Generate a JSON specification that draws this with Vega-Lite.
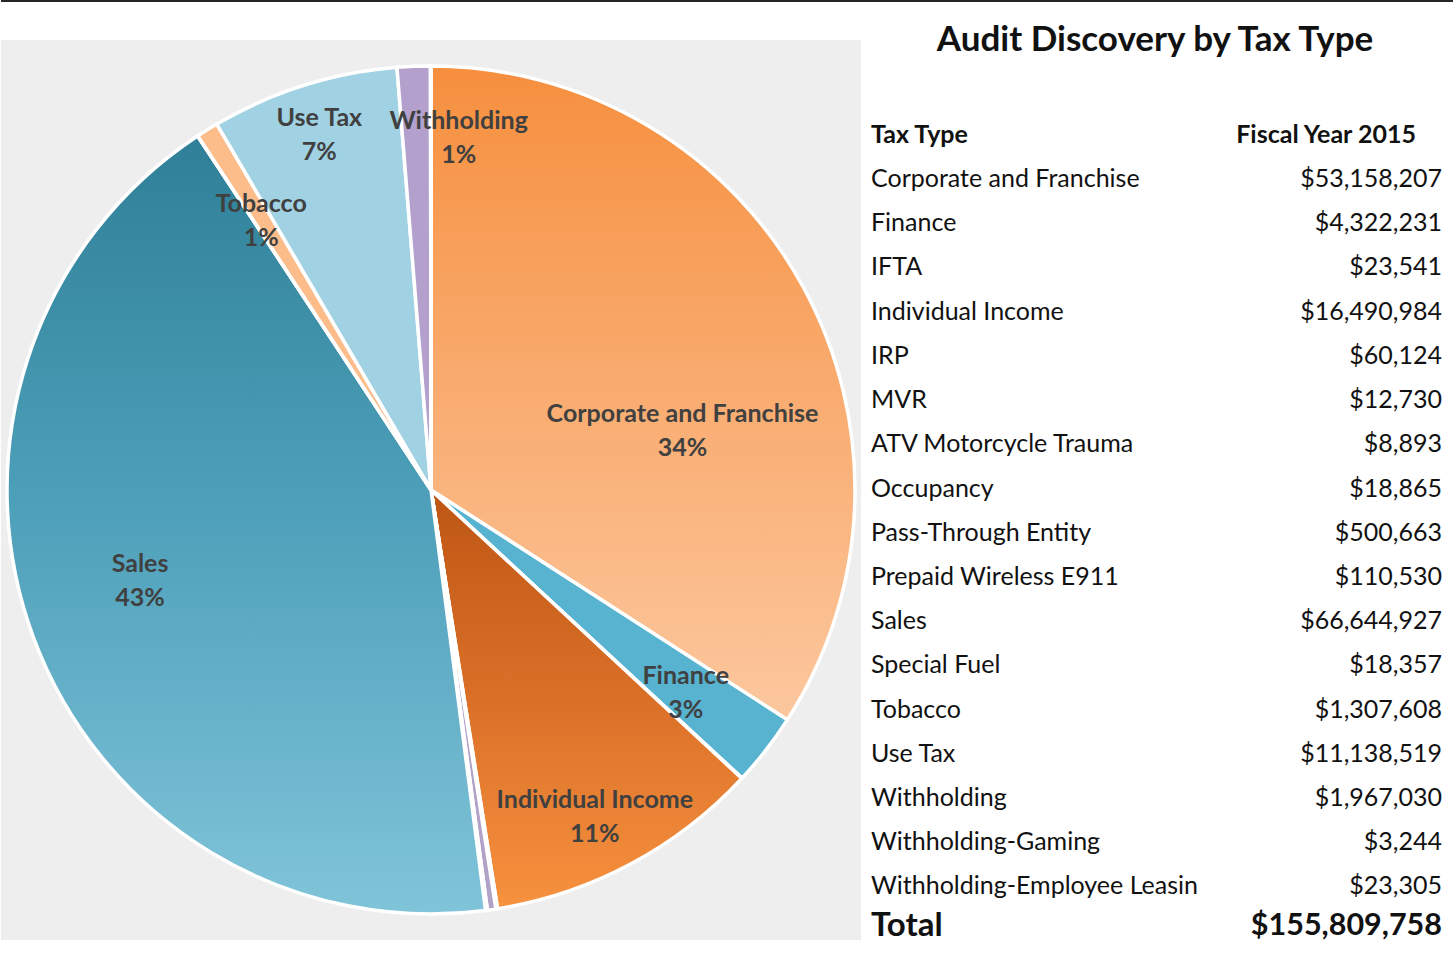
{
  "$schema": "https://vega.github.io/schema/vega-lite/v6.json",
  "background": "white",
  "padding": 0,
  "bounds": "flush",
  "spacing": 38,
  "config": {"view": {"stroke": null}, "font": "Lato", "text": {"font": "Lato"}},
  "datasets": {
    "taxes": [
      {"row": 3, "type": "Corporate and Franchise", "amount": 53158207, "label": "Corporate and Franchise\n34%"},
      {"row": 4, "type": "Finance", "amount": 4322231, "label": "Finance\n3%"},
      {"row": 5, "type": "IFTA", "amount": 23541, "label": ""},
      {"row": 6, "type": "Individual Income", "amount": 16490984, "label": "Individual  Income\n11%"},
      {"row": 7, "type": "IRP", "amount": 60124, "label": ""},
      {"row": 8, "type": "MVR", "amount": 12730, "label": ""},
      {"row": 9, "type": "ATV Motorcycle Trauma", "amount": 8893, "label": ""},
      {"row": 10, "type": "Occupancy", "amount": 18865, "label": ""},
      {"row": 11, "type": "Pass-Through Entity", "amount": 500663, "label": ""},
      {"row": 12, "type": "Prepaid Wireless E911", "amount": 110530, "label": ""},
      {"row": 13, "type": "Sales", "amount": 66644927, "label": "Sales\n43%"},
      {"row": 14, "type": "Special Fuel", "amount": 18357, "label": ""},
      {"row": 15, "type": "Tobacco", "amount": 1307608, "label": "Tobacco\n1%"},
      {"row": 16, "type": "Use Tax", "amount": 11138519, "label": "Use Tax\n7%"},
      {"row": 17, "type": "Withholding", "amount": 1967030, "label": "Withholding\n1%"},
      {"row": 18, "type": "Withholding-Gaming", "amount": 3244, "label": ""},
      {"row": 19, "type": "Withholding-Employee Leasing", "amount": 23305, "label": ""}
    ]
  },
  "vconcat": [
    {
      "width": 1453,
      "height": 2,
      "data": {"values": [{"a": 1}]},
      "mark": {"type": "rect", "color": "#262626"},
      "encoding": {
        "x": {"value": 0},
        "x2": {"value": "width"},
        "y": {"value": 0},
        "y2": {"value": "height"}
      }
    },
    {
      "bounds": "flush",
      "spacing": 10,
      "hconcat": [
        {
          "width": 860,
          "height": 900,
          "view": {"fill": "#EEEEEE", "stroke": null},
          "data": {"name": "taxes"},
          "layer": [
            {
              "mark": {"type": "arc", "radius": 424, "stroke": "white", "strokeWidth": 3.5},
              "encoding": {
                "theta": {"field": "amount", "type": "quantitative", "stack": true},
                "order": {"field": "row", "type": "quantitative"},
                "color": {
                  "field": "type",
                  "type": "nominal",
                  "legend": null,
                  "scale": {
                    "domain": ["Corporate and Franchise", "Finance", "IFTA", "Individual Income", "IRP", "MVR", "ATV Motorcycle Trauma", "Occupancy", "Pass-Through Entity", "Prepaid Wireless E911", "Sales", "Special Fuel", "Tobacco", "Use Tax", "Withholding", "Withholding-Gaming", "Withholding-Employee Leasing"],
                    "range": ["#F9A566", "#57B3D0", "#8EB4E3", "#E07020", "#9BBB59", "#8064A2", "#4F81BD", "#C0504D", "#B3A2C7", "#C3D69B", "#4FA0BA", "#F79646", "#FCBD8B", "#A0D2E3", "#B3A0CC", "#FAC090", "#93CDDD"]
                  },
                  "condition": [
                    {"test": "datum.type === 'Corporate and Franchise'", "value": {"gradient": "linear", "x1": 0, "y1": 0, "x2": 0, "y2": 1, "stops": [{"offset": 0, "color": "#F68F3E"}, {"offset": 0.5, "color": "#F9AC70"}, {"offset": 1, "color": "#FCC79E"}]}},
                    {"test": "datum.type === 'Individual Income'", "value": {"gradient": "linear", "x1": 0, "y1": 0, "x2": 0, "y2": 1, "stops": [{"offset": 0, "color": "#BE5614"}, {"offset": 0.5, "color": "#DA7028"}, {"offset": 1, "color": "#F7923F"}]}},
                    {"test": "datum.type === 'Sales'", "value": {"gradient": "linear", "x1": 0, "y1": 0, "x2": 0, "y2": 1, "stops": [{"offset": 0, "color": "#2E7F97"}, {"offset": 0.5, "color": "#50A1BB"}, {"offset": 1, "color": "#80C4D9"}]}}
                  ]
                }
              }
            },
            {
              "mark": {"type": "text", "radius": 250, "dx": 32, "dy": 44, "fontSize": 25, "fontWeight": "bold", "color": "#404040", "lineBreak": "\n", "lineHeight": 34, "align": "center", "baseline": "middle"},
              "encoding": {
                "theta": {"field": "amount", "type": "quantitative", "stack": true},
                "order": {"field": "row", "type": "quantitative"},
                "text": {"condition": {"test": "datum.type === 'Corporate and Franchise'", "field": "label", "type": "nominal"}, "value": ""}
              }
            },
            {
              "mark": {"type": "text", "radius": 325, "dx": -2, "dy": -13, "fontSize": 25, "fontWeight": "bold", "color": "#404040", "lineBreak": "\n", "lineHeight": 34, "align": "center", "baseline": "middle"},
              "encoding": {
                "theta": {"field": "amount", "type": "quantitative", "stack": true},
                "order": {"field": "row", "type": "quantitative"},
                "text": {"condition": {"test": "datum.type === 'Finance'", "field": "label", "type": "nominal"}, "value": ""}
              }
            },
            {
              "mark": {"type": "text", "radius": 365, "dx": -8, "dy": -12, "fontSize": 25, "fontWeight": "bold", "color": "#404040", "lineBreak": "\n", "lineHeight": 34, "align": "center", "baseline": "middle"},
              "encoding": {
                "theta": {"field": "amount", "type": "quantitative", "stack": true},
                "order": {"field": "row", "type": "quantitative"},
                "text": {"condition": {"test": "datum.type === 'Individual Income'", "field": "label", "type": "nominal"}, "value": ""}
              }
            },
            {
              "mark": {"type": "text", "radius": 304, "dx": -6, "dy": -32, "fontSize": 25, "fontWeight": "bold", "color": "#404040", "lineBreak": "\n", "lineHeight": 34, "align": "center", "baseline": "middle"},
              "encoding": {
                "theta": {"field": "amount", "type": "quantitative", "stack": true},
                "order": {"field": "row", "type": "quantitative"},
                "text": {"condition": {"test": "datum.type === 'Sales'", "field": "label", "type": "nominal"}, "value": ""}
              }
            },
            {
              "mark": {"type": "text", "radius": 318, "dx": -2, "dy": -16, "fontSize": 25, "fontWeight": "bold", "color": "#404040", "lineBreak": "\n", "lineHeight": 34, "align": "center", "baseline": "middle"},
              "encoding": {
                "theta": {"field": "amount", "type": "quantitative", "stack": true},
                "order": {"field": "row", "type": "quantitative"},
                "text": {"condition": {"test": "datum.type === 'Tobacco'", "field": "label", "type": "nominal"}, "value": ""}
              }
            },
            {
              "mark": {"type": "text", "radius": 372, "dy": -17, "fontSize": 25, "fontWeight": "bold", "color": "#404040", "lineBreak": "\n", "lineHeight": 34, "align": "center", "baseline": "middle"},
              "encoding": {
                "theta": {"field": "amount", "type": "quantitative", "stack": true},
                "order": {"field": "row", "type": "quantitative"},
                "text": {"condition": {"test": "datum.type === 'Use Tax'", "field": "label", "type": "nominal"}, "value": ""}
              }
            },
            {
              "mark": {"type": "text", "radius": 352, "dx": 42, "dy": -17, "fontSize": 25, "fontWeight": "bold", "color": "#404040", "lineBreak": "\n", "lineHeight": 34, "align": "center", "baseline": "middle"},
              "encoding": {
                "theta": {"field": "amount", "type": "quantitative", "stack": true},
                "order": {"field": "row", "type": "quantitative"},
                "text": {"condition": {"test": "datum.type === 'Withholding'", "field": "label", "type": "nominal"}, "value": ""}
              }
            }
          ]
        },
        {
          "width": 571,
          "height": 900,
          "layer": [
            {
              "data": {"values": [{"row": 0, "text": "Audit Discovery by Tax Type"}]},
              "mark": {"type": "text", "fontSize": 35, "fontWeight": "bold", "align": "center", "baseline": "middle", "dx": -287, "dy": -5, "color": "#111111"},
              "encoding": {
                "y": {"field": "row", "type": "quantitative", "scale": {"domain": [0, 20], "range": [5.4, 889.6]}, "axis": null},
                "x": {"value": "width"},
                "text": {"field": "text"}
              }
            },
            {
              "data": {"values": [{"row": 2, "a": "Tax Type", "b": "Fiscal Year 2015"}]},
              "layer": [
                {
                  "mark": {"type": "text", "fontSize": 25, "fontWeight": "bold", "align": "left", "baseline": "middle", "dy": 1, "color": "#111111"},
                  "encoding": {
                    "y": {"field": "row", "type": "quantitative", "scale": {"domain": [0, 20], "range": [5.4, 889.6]}, "axis": null},
                    "x": {"value": 0},
                    "text": {"field": "a"}
                  }
                },
                {
                  "mark": {"type": "text", "fontSize": 25, "fontWeight": "bold", "align": "right", "baseline": "middle", "dx": -26, "dy": 1, "color": "#111111"},
                  "encoding": {
                    "y": {"field": "row", "type": "quantitative", "scale": {"domain": [0, 20], "range": [5.4, 889.6]}, "axis": null},
                    "x": {"value": "width"},
                    "text": {"field": "b"}
                  }
                }
              ]
            },
            {
              "data": {"name": "taxes"},
              "layer": [
                {
                  "mark": {"type": "text", "fontSize": 25, "align": "left", "baseline": "middle", "dy": 1, "color": "#111111", "limit": 336, "ellipsis": " "},
                  "encoding": {
                    "y": {"field": "row", "type": "quantitative", "scale": {"domain": [0, 20], "range": [5.4, 889.6]}, "axis": null},
                    "x": {"value": 0},
                    "text": {"field": "type"}
                  }
                },
                {
                  "mark": {"type": "text", "fontSize": 25, "align": "right", "baseline": "middle", "dy": 1, "color": "#111111"},
                  "encoding": {
                    "y": {"field": "row", "type": "quantitative", "scale": {"domain": [0, 20], "range": [5.4, 889.6]}, "axis": null},
                    "x": {"value": "width"},
                    "text": {"field": "amount", "type": "quantitative", "format": "$,.0f"}
                  }
                }
              ]
            },
            {
              "data": {"values": [{"row": 20, "a": "Total", "amount": 155809758}]},
              "layer": [
                {
                  "mark": {"type": "text", "fontSize": 33, "fontWeight": "bold", "align": "left", "baseline": "middle", "dy": -4, "color": "#111111"},
                  "encoding": {
                    "y": {"field": "row", "type": "quantitative", "scale": {"domain": [0, 20], "range": [5.4, 889.6]}, "axis": null},
                    "x": {"value": 0},
                    "text": {"field": "a"}
                  }
                },
                {
                  "mark": {"type": "text", "fontSize": 30.5, "fontWeight": "bold", "align": "right", "baseline": "middle", "dy": -4, "color": "#111111"},
                  "encoding": {
                    "y": {"field": "row", "type": "quantitative", "scale": {"domain": [0, 20], "range": [5.4, 889.6]}, "axis": null},
                    "x": {"value": "width"},
                    "text": {"field": "amount", "type": "quantitative", "format": "$,.0f"}
                  }
                }
              ]
            }
          ]
        }
      ]
    }
  ]
}
